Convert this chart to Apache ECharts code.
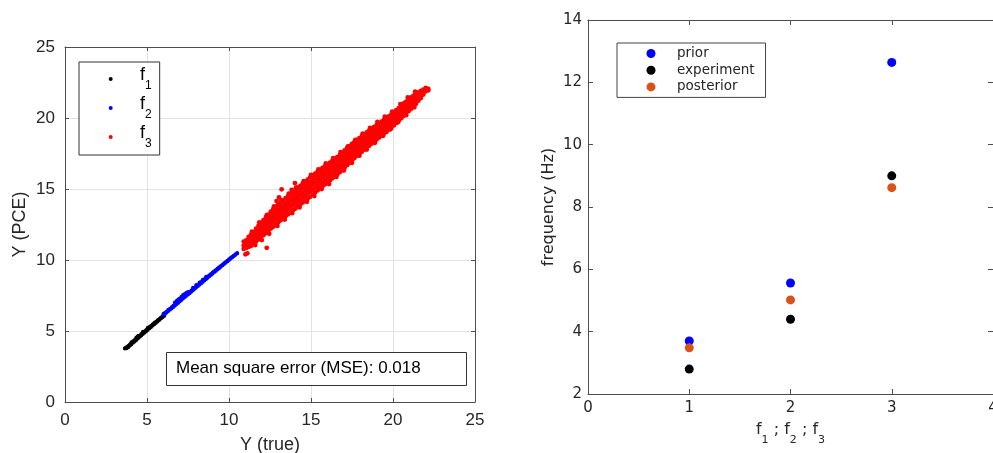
<!DOCTYPE html>
<html><head><meta charset="utf-8">
<script src="https://cdn.jsdelivr.net/npm/echarts@6/dist/echarts.min.js"></script>
<style>html,body{margin:0;padding:0;background:#fff}#c{width:993px;height:453px}</style>
</head><body><div id="c"></div>
<script>
// ---- Left panel: Y (true) vs Y (PCE), columns are [x, y1, y2, ...] ----
const f1Columns = [
  [3.65,3.76,3.80],[3.75,3.78,3.86],[3.85,3.84,3.95],[3.95,3.96,4.06],[4.05,4.05,4.16,4.22],
  [4.15,4.18,4.28],[4.25,4.26,4.38],[4.35,4.36,4.48,4.55],[4.45,4.48,4.58,4.66],[4.55,4.58,4.68],
  [4.65,4.68,4.80],[4.75,4.78,4.88,4.96],[4.85,4.88,4.98],[4.95,4.98,5.08],[5.05,5.08,5.18,5.24],
  [5.15,5.18,5.28],[5.25,5.28,5.38],[5.35,5.38,5.48],[5.45,5.48,5.58],[5.55,5.58,5.66],
  [5.65,5.67,5.76],[5.75,5.78,5.86],[5.85,5.88,5.96],[5.95,5.97,6.04],[6.05,6.06,6.12]
];
const f2Columns = [
  [6.00,6.12,6.22],[6.10,6.20,6.30],[6.20,6.30,6.38],[6.30,6.40,6.50],[6.40,6.50,6.58],
  [6.50,6.58,6.68],[6.60,6.68,6.78],[6.70,6.78,6.88,7.02],[6.80,6.88,6.98,7.12],[6.90,6.98,7.08,7.22],
  [7.00,7.08,7.18,7.30],[7.10,7.18,7.28,7.42],[7.20,7.28,7.38,7.55],[7.30,7.38,7.48,7.62],[7.40,7.48,7.58,7.70],
  [7.50,7.57,7.66,7.76],[7.60,7.66,7.76],[7.70,7.76,7.86],[7.80,7.86,7.96,8.05],[7.90,7.96,8.06],
  [8.00,8.06,8.15,8.25],[8.10,8.16,8.25],[8.20,8.26,8.35,8.42],[8.30,8.35,8.45],[8.40,8.45,8.55,8.62],
  [8.50,8.55,8.65],[8.60,8.65,8.74,8.82],[8.70,8.75,8.84],[8.80,8.85,8.93],[8.90,8.94,9.02],
  [9.00,9.04,9.12],[9.10,9.14,9.22],[9.20,9.23,9.31],[9.30,9.33,9.40],[9.40,9.42,9.50],
  [9.50,9.52,9.59],[9.60,9.62,9.68],[9.70,9.71,9.78],[9.80,9.80,9.87],[9.90,9.90,9.96],
  [10.00,10.00,10.06],[10.10,10.09,10.15],[10.20,10.18,10.24],[10.30,10.28,10.33],[10.40,10.37,10.42],
  [10.50,10.46,10.50]
];
const f3Columns = [
  [10.90,10.78,11.02,11.30],[11.05,10.85,11.10,11.38],[11.20,10.92,11.18,11.45,11.62],
  [11.35,11.00,11.28,11.55,11.80],[11.50,11.12,11.40,11.68,11.95],[11.65,11.30,11.55,11.80,12.05,12.20],
  [11.80,11.45,11.72,11.98,12.22,12.42],[11.95,11.60,11.88,12.10,12.38,12.60],[12.10,11.75,12.02,12.28,12.55,12.80],
  [12.25,11.90,12.20,12.45,12.72,12.98],[12.40,12.05,12.38,12.62,12.90,13.20],[12.55,12.22,12.52,12.80,13.08,13.40],
  [12.70,12.35,12.70,12.98,13.25,13.60],[12.85,12.50,12.85,13.12,13.42,13.75],[13.00,12.65,12.98,13.28,13.55,13.90],
  [13.15,12.80,13.12,13.45,13.72,14.02],[13.30,12.95,13.28,13.58,13.85,14.18],[13.45,13.08,13.42,13.72,14.02,14.35],
  [13.60,13.22,13.55,13.88,14.15,14.50],[13.75,13.35,13.70,14.00,14.32,14.65],[13.90,13.50,13.85,14.15,14.45,14.80],
  [14.05,13.62,13.98,14.30,14.62,14.95],[14.20,13.78,14.12,14.45,14.75,15.10],[14.35,13.90,14.25,14.58,14.90,15.22],
  [14.50,14.05,14.40,14.72,15.05,15.38],[14.65,14.18,14.52,14.85,15.18,15.52],[14.80,14.32,14.68,15.00,15.32,15.65],
  [14.95,14.45,14.82,15.15,15.48,15.82],[15.10,14.60,14.95,15.30,15.60,15.95],[15.25,14.75,15.10,15.42,15.75,16.08],
  [15.40,14.90,15.22,15.55,15.88,16.20],[15.55,15.05,15.38,15.70,16.02,16.35],[15.70,15.18,15.50,15.85,16.15,16.48],
  [15.85,15.32,15.65,15.98,16.28,16.60],[16.00,15.45,15.78,16.10,16.42,16.72],[16.15,15.60,15.92,16.22,16.55,16.85],
  [16.30,15.75,16.05,16.38,16.68,16.98],[16.45,15.90,16.20,16.50,16.80,17.10],[16.60,16.02,16.35,16.65,16.95,17.25],
  [16.75,16.18,16.48,16.78,17.08,17.38],[16.90,16.35,16.65,16.95,17.25,17.55],[17.05,16.50,16.82,17.12,17.42,17.72],
  [17.20,16.68,17.00,17.30,17.60,17.88],[17.35,16.85,17.15,17.45,17.75,18.02],[17.50,17.02,17.32,17.62,17.90,18.18],
  [17.65,17.18,17.48,17.78,18.05,18.32],[17.80,17.33,17.62,17.92,18.20,18.45],[17.95,17.48,17.78,18.05,18.32,18.58],
  [18.10,17.62,17.92,18.20,18.48,18.72],[18.25,17.78,18.05,18.32,18.60,18.85],[18.40,17.92,18.20,18.48,18.72,18.98],
  [18.55,18.05,18.32,18.60,18.88,19.12],[18.70,18.20,18.48,18.72,19.00,19.25],[18.85,18.32,18.60,18.88,19.12,19.38],
  [19.00,18.48,18.75,19.00,19.25,19.50],[19.15,18.62,18.88,19.12,19.38,19.62],[19.30,18.75,19.00,19.25,19.50,19.75],
  [19.45,18.90,19.15,19.38,19.62,19.86],[19.60,19.02,19.28,19.52,19.75,20.00],[19.75,19.18,19.42,19.65,19.90,20.12],
  [19.90,19.32,19.55,19.80,20.02,20.26],[20.05,19.48,19.70,19.95,20.18,20.40],[20.20,19.65,19.88,20.10,20.32,20.55],
  [20.35,19.82,20.05,20.28,20.50,20.70],[20.50,19.98,20.20,20.42,20.65,20.86],[20.65,20.15,20.38,20.60,20.80,21.02],
  [20.80,20.32,20.55,20.75,20.95,21.16],[20.95,20.48,20.70,20.90,21.10,21.30],[21.10,20.65,20.88,21.05,21.25,21.45],
  [21.25,20.82,21.02,21.22,21.40,21.58],[21.40,21.00,21.18,21.38,21.55,21.74],[21.55,21.22,21.40,21.55,21.80],
  [21.70,21.40,21.58,21.75,21.90],[21.85,21.65,21.82,22.00],[22.00,21.88,22.02,22.12],[22.15,21.95,22.05]
];
// scattered points along the rough edges of the f3 cloud
const f3Edge = [
  [11.60,11.05],[12.00,11.40],[12.45,11.85],[12.95,12.40],[13.40,12.85],[13.85,13.30],[14.30,13.70],
  [14.75,14.10],[15.20,14.50],[15.65,15.00],[16.10,15.35],[16.55,15.85],[17.00,16.30],[17.50,16.85],
  [17.95,17.35],[18.40,17.78],[18.90,18.25],[19.40,18.75],[19.85,19.20],[20.30,19.70],[20.80,20.20],[21.30,20.75],
  [11.40,12.00],[11.85,12.65],[12.30,13.15],[12.75,13.78],[13.20,14.20],[13.65,14.68],[14.10,15.12],
  [14.55,15.55],[15.00,16.00],[15.45,16.38],[15.90,16.80],[16.35,17.18],[16.80,17.60],[17.25,18.00],
  [17.70,18.45],[18.15,18.90],[18.60,19.30],[19.05,19.72],[19.50,20.10],[19.95,20.45],[20.45,20.98],
  [20.90,21.45],[21.35,21.85]
];
const f3Outliers = [
  [13.21,14.98],[14.02,15.42],[13.82,14.93],[12.90,14.15],[12.30,10.86],[11.12,10.47],[11.00,10.40],[13.05,14.40]
];
const leftTicks = [0, 5, 10, 15, 20, 25];
const mseText = 'Mean square error (MSE): 0.018';

// ---- Right panel: frequencies ----
const modes = [1, 2, 3];
const prior = [3.70, 5.56, 12.64];
const experiment = [2.80, 4.40, 9.00];
const posterior = [3.48, 5.02, 8.62];
const rightYTicks = [2, 4, 6, 8, 10, 12, 14];

function expand(cols) {
  const out = [];
  cols.forEach(c => { for (let i = 1; i < c.length; i++) out.push([c[0], c[i]]); });
  return out;
}
const pairs = vals => modes.map((m, i) => [m, vals[i]]);

const LF = 'Liberation Sans, Arial, Helvetica, sans-serif';
const RF = 'DejaVu Sans, sans-serif';
const boxColor = '#4d4d4d';
const txt = '#262626';

function axis(base, extra) { return Object.assign({}, base, extra); }

const leftX = {
  type: 'value', gridIndex: 0, min: leftTicks[0], max: leftTicks[leftTicks.length - 1], interval: 5,
  axisLine: { show: true, onZero: false, lineStyle: { color: boxColor, width: 1 } },
  axisTick: { show: true, inside: true, length: 4, lineStyle: { color: boxColor } },
  splitLine: { show: true, lineStyle: { color: '#e3e3e3', width: 1 } },
  axisLabel: { show: true, fontFamily: LF, fontSize: 17, color: txt, margin: 10 }
};
const rightX = {
  type: 'value', gridIndex: 1, min: 0, max: 4, interval: 1,
  axisLine: { show: true, onZero: false, lineStyle: { color: boxColor, width: 1 } },
  axisTick: { show: true, inside: true, length: 5, lineStyle: { color: boxColor } },
  splitLine: { show: false },
  axisLabel: { show: true, fontFamily: RF, fontSize: 15, color: txt, margin: 7 }
};

const chart = echarts.init(document.getElementById('c'), null, { renderer: 'canvas' });
chart.setOption({
  animation: false,
  backgroundColor: '#fff',
  grid: [
    { left: 65, top: 47, width: 410, height: 355, containLabel: false, outerBoundsMode: 'none' },
    { left: 588, top: 20, width: 405, height: 374, containLabel: false, outerBoundsMode: 'none' }
  ],
  xAxis: [
    axis(leftX, { name: 'Y (true)', nameLocation: 'middle', nameGap: 34,
      nameTextStyle: { fontFamily: LF, fontSize: 18, color: txt } }),
    axis(leftX, { position: 'top', axisLabel: { show: false }, splitLine: { show: false } }),
    axis(rightX, { name: '{f|f}{s|1}{f| ; f}{s|2}{f| ; f}{s|3}', nameLocation: 'middle', nameGap: 28,
      nameTextStyle: { color: txt, rich: {
        f: { fontFamily: RF, fontSize: 16, color: txt, verticalAlign: 'top', lineHeight: 24 },
        s: { fontFamily: RF, fontSize: 11, color: txt, verticalAlign: 'bottom', lineHeight: 24 } } } }),
    axis(rightX, { position: 'top', axisLabel: { show: false } })
  ],
  yAxis: [
    axis(leftX, { name: 'Y (PCE)', nameLocation: 'middle', nameGap: 36,
      nameTextStyle: { fontFamily: LF, fontSize: 18, color: txt } }),
    axis(leftX, { position: 'right', axisLabel: { show: false }, splitLine: { show: false } }),
    axis(rightX, { min: rightYTicks[0], max: rightYTicks[rightYTicks.length - 1], interval: 2,
      axisLabel: { show: true, fontFamily: RF, fontSize: 15, color: txt, margin: 6 },
      name: 'frequency (Hz)', nameLocation: 'middle', nameGap: 31,
      nameTextStyle: { fontFamily: RF, fontSize: 16, color: txt } }),
    axis(rightX, { min: rightYTicks[0], max: rightYTicks[rightYTicks.length - 1], interval: 2,
      position: 'right', axisLabel: { show: false } })
  ],
  legend: [
    {
      data: ['f1', 'f2', 'f3'], orient: 'vertical', left: 79, top: 62,
      backgroundColor: '#fff', borderColor: '#333', borderWidth: 1,
      padding: [4, 8, 5, 29.7], itemGap: 3, itemWidth: 48.6, itemHeight: 4, icon: 'circle',
      formatter: n => '{f|f}{s|' + n.slice(1) + '}',
      textStyle: { rich: {
        f: { fontFamily: LF, fontSize: 18, color: '#000', verticalAlign: 'top', lineHeight: 26 },
        s: { fontFamily: LF, fontSize: 12, color: '#000', verticalAlign: 'bottom', lineHeight: 26 } } },
      selectedMode: false
    },
    {
      data: ['prior', 'experiment', 'posterior'], orient: 'vertical', left: 617, top: 43,
      backgroundColor: '#fff', borderColor: '#444', borderWidth: 1,
      padding: [2.5, 11, 2.5, 29.5], itemGap: 0.7, itemWidth: 42, itemHeight: 9, icon: 'circle',
      textStyle: { fontFamily: RF, fontSize: 13.5, color: txt, lineHeight: 16 },
      selectedMode: false
    }
  ],
  graphic: [
    { type: 'rect', left: 166, top: 352, z: 10,
      shape: { width: 300, height: 33 }, style: { fill: '#fff', stroke: '#333', lineWidth: 1 } },
    { type: 'text', left: 176, top: 360, z: 11,
      style: { text: mseText, font: '17px ' + LF, fill: '#000' } }
  ],
  series: [
    { name: 'f1', type: 'scatter', xAxisIndex: 0, yAxisIndex: 0, data: expand(f1Columns),
      symbolSize: 3.8, itemStyle: { color: '#000000', opacity: 1 }, silent: true },
    { name: 'f2', type: 'scatter', xAxisIndex: 0, yAxisIndex: 0, data: expand(f2Columns),
      symbolSize: 3.8, itemStyle: { color: '#0000ff', opacity: 1 }, silent: true },
    { name: 'f3', type: 'scatter', xAxisIndex: 0, yAxisIndex: 0,
      data: expand(f3Columns).concat(f3Edge, f3Outliers),
      symbolSize: 4.8, itemStyle: { color: '#ff0000', opacity: 1 }, silent: true },
    { name: 'prior', type: 'scatter', xAxisIndex: 2, yAxisIndex: 2, data: pairs(prior),
      symbolSize: 9, itemStyle: { color: '#0000ff', opacity: 1 } },
    { name: 'experiment', type: 'scatter', xAxisIndex: 2, yAxisIndex: 2, data: pairs(experiment),
      symbolSize: 9, itemStyle: { color: '#000000', opacity: 1 } },
    { name: 'posterior', type: 'scatter', xAxisIndex: 2, yAxisIndex: 2, data: pairs(posterior),
      symbolSize: 9, itemStyle: { color: '#d95319', opacity: 1 } }
  ]
});
</script>
</body></html>
